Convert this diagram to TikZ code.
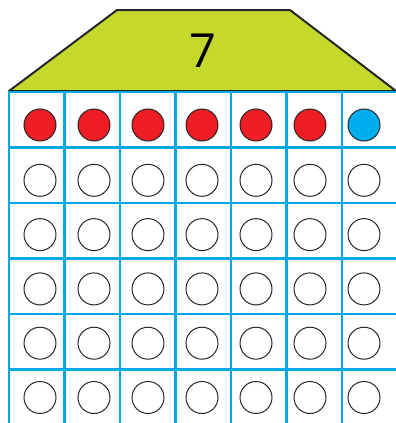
\documentclass[tikz,border=0pt]{standalone}
\usepackage{fontspec}
\setmainfont{Open Sans}
\usepackage{xcolor}
\usetikzlibrary{positioning}

\definecolor{roof}{HTML}{C5D92D}
\definecolor{gridblue}{HTML}{00A9E6}
\definecolor{dotred}{HTML}{EE1C25}
\definecolor{dotblue}{HTML}{00AEEF}

\begin{document}
\begin{tikzpicture}[
    x=1pt, y=-1pt,
    gridline/.style={draw=gridblue, line width=2.2pt},
    dot/.style={circle, draw=black!85, line width=1pt, minimum size=32pt, inner sep=0pt},
    reddot/.style={dot, fill=dotred},
    bluedot/.style={dot, fill=dotblue}
]
    \useasboundingbox (0,0) rectangle (396,423);

    % Roof with the number
    \draw[fill=roof, draw=black!85, line width=2pt, line join=round]
        (9,91) -- (117,10) -- (290,10) -- (396,91) -- cycle;
    \node[font=\fontsize{47}{47}\selectfont] (num) at (203,51) {7};

    % Grid
    \foreach \i in {0,...,6}
        \draw[gridline] (9+55.5*\i,91) -- (9+55.5*\i,423);
    \foreach \j in {0,...,5}
        \draw[gridline] (9,92+55.5*\j) -- (396,92+55.5*\j);

    % Dots, first row
    \foreach \i in {0,...,5}
        \node[reddot] (d-0-\i) at (40+54*\i,125) {};
    \node[bluedot] (d-0-6) at (364,125) {};

    % Empty dots
    \foreach \j in {1,...,5}
        \foreach \i in {0,...,6}
            \node[dot] (d-\j-\i) at (40+54*\i,126+54.3*\j) {};
\end{tikzpicture}
\end{document}
